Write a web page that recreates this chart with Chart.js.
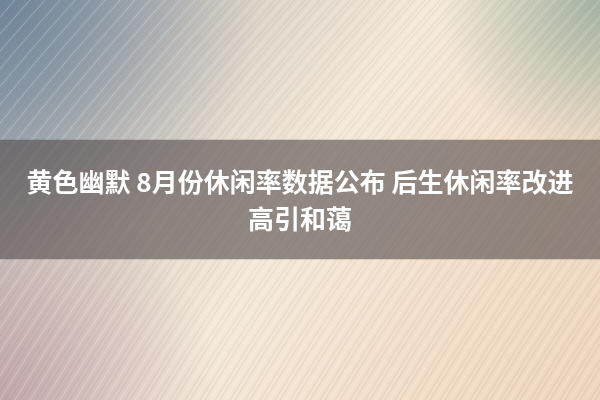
<!DOCTYPE html>
<html>
<head>
<meta charset="utf-8">
<script src="https://cdn.jsdelivr.net/npm/chart.js@4/dist/chart.umd.min.js"></script>
<style>
  html, body { margin: 0; padding: 0; background: #efe4d6; }
  #wrap { width: 600px; height: 400px; position: relative; }
</style>
</head>
<body>
<div id="wrap"><canvas id="banner"></canvas></div>
<script>
// banner text lines
const titleLines = ['黄色幽默 8月份休闲率数据公布 后生休闲率改进', '高引和蔼'];
// one category, one floating bar: the dark band (pixel rows on a 0..400 scale)
const categories = ['band'];
const bandRange = [[140, 259]];

// textured backdrop: gradients plus diagonal streaks
const backdrop = {
  id: 'backdrop',
  beforeDraw(chart) {
    const { ctx, width: w, height: h } = chart;
    ctx.save();
    let g = ctx.createLinearGradient(0, 0, w, h);
    g.addColorStop(0, '#9aa4ac');
    g.addColorStop(0.25, '#d8cfc4');
    g.addColorStop(0.5, '#f4e9da');
    g.addColorStop(0.8, '#f2dcc6');
    g.addColorStop(1, '#eed6c0');
    ctx.fillStyle = g;
    ctx.fillRect(0, 0, w, h);

    g = ctx.createRadialGradient(0, 0, 0, 0, 0, 260);
    g.addColorStop(0, 'rgba(100,125,150,0.8)');
    g.addColorStop(1, 'rgba(100,125,150,0)');
    ctx.fillStyle = g;
    ctx.fillRect(0, 0, w, h);

    g = ctx.createRadialGradient(w, 0, 0, w, 0, 160);
    g.addColorStop(0, 'rgba(130,160,145,0.7)');
    g.addColorStop(1, 'rgba(130,160,145,0)');
    ctx.fillStyle = g;
    ctx.fillRect(0, 0, w, h);

    g = ctx.createRadialGradient(0, h, 0, 0, h, 220);
    g.addColorStop(0, 'rgba(175,135,150,0.6)');
    g.addColorStop(1, 'rgba(175,135,150,0)');
    ctx.fillStyle = g;
    ctx.fillRect(0, 0, w, h);

    // brush streaks
    ctx.lineWidth = 1;
    for (let x = -300, i = 0; x < w + 300; x += 5, i++) {
      ctx.strokeStyle = i % 3 === 0 ? 'rgba(255,255,255,0.28)' : 'rgba(110,90,80,0.1)';
      ctx.beginPath();
      ctx.moveTo(x, h);
      ctx.quadraticCurveTo(x + 120, h * 0.5, x + 300, 0);
      ctx.stroke();
    }
    ctx.restore();
  }
};

// text on top of the band
const bandText = {
  id: 'bandText',
  afterDatasetsDraw(chart) {
    const { ctx, chartArea } = chart;
    const y = chart.scales.y;
    const mid = (y.getPixelForValue(bandRange[0][0]) + y.getPixelForValue(bandRange[0][1])) / 2;
    const cx = (chartArea.left + chartArea.right) / 2;
    ctx.save();
    ctx.fillStyle = '#ffffff';
    ctx.font = 'bold 26px "Noto Sans CJK SC", "Noto Sans", sans-serif';
    ctx.textAlign = 'center';
    ctx.textBaseline = 'middle';
    const gap = 37;
    titleLines.forEach((t, i) => {
      ctx.fillText(t, cx, mid + 1 + (i - (titleLines.length - 1) / 2) * gap);
    });
    ctx.restore();
  }
};

new Chart(document.getElementById('banner'), {
  type: 'bar',
  data: {
    labels: categories,
    datasets: [{
      data: bandRange,
      backgroundColor: 'rgba(85,78,78,0.62)',
      borderWidth: 0,
      barPercentage: 1,
      categoryPercentage: 1
    }]
  },
  options: {
    responsive: true,
    maintainAspectRatio: false,
    animation: false,
    layout: { padding: 0 },
    scales: {
      x: { display: false },
      y: { display: false, min: 0, max: 400, reverse: true }
    },
    plugins: { legend: { display: false }, tooltip: { enabled: false } }
  },
  plugins: [backdrop, bandText]
});
</script>
</body>
</html>
